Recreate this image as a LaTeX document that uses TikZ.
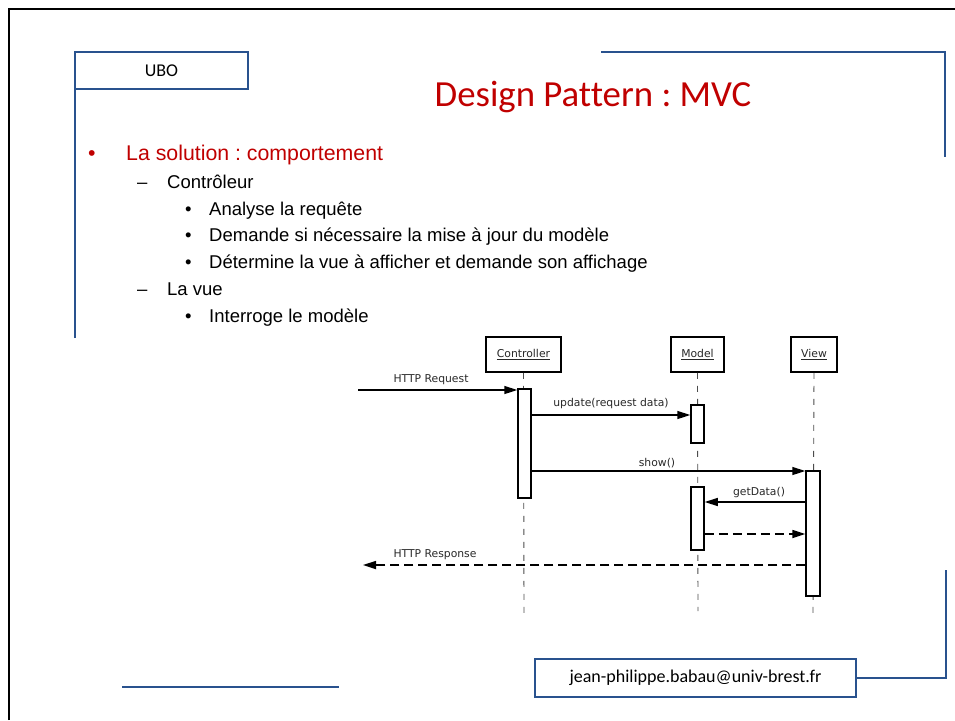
\documentclass[tikz,border=0pt]{standalone}
\usepackage{fontspec}
\setmainfont{Liberation Sans}
\newfontfamily\calibri[Ligatures=NoCommon]{Carlito}
\newfontfamily\seqfont{DejaVu Sans}
\usetikzlibrary{arrows.meta}
\frenchspacing
\definecolor{slidered}{RGB}{192,0,0}
\definecolor{slideblue}{RGB}{41,82,142}
\definecolor{seqtext}{RGB}{40,40,40}
\tikzset{
  frameline/.style={line width=1.8pt,black},
  blueline/.style={line width=2.6pt,slideblue},
  bluebox/.style={draw=slideblue,line width=2.6pt,fill=white,inner sep=0pt},
  lvlone/.style={anchor=base west,inner sep=0pt,text=slidered,font=\fontsize{21.3}{25}\selectfont},
  lvltwo/.style={anchor=base west,inner sep=0pt,font=\fontsize{18.5}{22}\selectfont},
  lifebox/.style={draw,line width=1.5pt,fill=white,inner sep=0pt,text=seqtext,font=\seqfont\fontsize{10.8}{13}\selectfont},
  actbox/.style={draw,line width=1.5pt,fill=white,inner sep=0pt,minimum width=13},
  lifeline/.style={line width=0.9pt,gray!60!black,dash pattern=on 6pt off 7pt},
  msg/.style={line width=1.5pt,-{Triangle[length=13pt,width=8pt]}},
  retmsg/.style={line width=1.7pt,dash pattern=on 9pt off 5pt,-{Triangle[length=13pt,width=8pt]}},
  msglabel/.style={inner sep=0pt,text=seqtext,font=\seqfont\fontsize{10.8}{13}\selectfont},
}
\begin{document}
\begin{tikzpicture}[x=1pt,y=-1pt]
\useasboundingbox (0,0) rectangle (955,720);
% page frame
\draw[frameline] (9,720) -- (9,9) -- (955,9);

% header decoration
\draw[blueline] (75,338) -- (75,52);
\node[bluebox,minimum width=173,minimum height=37,font=\calibri\fontsize{18}{20}\selectfont] (ubo) at (161.5,70.5) {UBO};
\draw[blueline] (601,52) -- (945,52) -- (945,157);

% title
\node[anchor=base,inner sep=0pt,text=slidered,font=\calibri\fontsize{36.8}{40}\selectfont] (title) at (593,106) {Design Pattern : MVC};

% bullet list
\node[lvlone] (b1) at (88,160) {•};
\node[lvlone] (t1) at (126,160) {La solution : comportement};
\node[lvltwo] (d1) at (137,188) {–};
\node[lvltwo] (t2) at (167,188) {Contrôleur};
\node[lvltwo] (b31) at (185,215) {•};
\node[lvltwo] (t31) at (209,215) {Analyse la requête};
\node[lvltwo] (b32) at (185,241) {•};
\node[lvltwo] (t32) at (209,241) {Demande si nécessaire la mise à jour du modèle};
\node[lvltwo] (b33) at (185,268) {•};
\node[lvltwo] (t33) at (209,268) {Détermine la vue à afficher et demande son affichage};
\node[lvltwo] (d2) at (137,295) {–};
\node[lvltwo] (t4) at (167,295) {La vue};
\node[lvltwo] (b41) at (185,322) {•};
\node[lvltwo] (t41) at (209,322) {Interroge le modèle};

% sequence diagram: participants
\node[lifebox,minimum width=75,minimum height=35] (ctrl) at (523.5,354.5) {\underline{Controller}};
\node[lifebox,minimum width=53,minimum height=35] (model) at (697.5,354.5) {\underline{Model}};
\node[lifebox,minimum width=46,minimum height=35] (view) at (814,354.5) {\underline{View}};
\coordinate (ctrlEnd) at (524,613);
\coordinate (modelEnd) at (698,611);
\coordinate (viewEnd) at (813,613);
\draw[lifeline] (ctrl.south) -- (ctrlEnd);
\draw[lifeline] (model.south) -- (modelEnd);
\draw[lifeline] (view.south) -- (viewEnd);

% activations
\node[actbox,minimum height=109] (ctrlAct) at (524.5,443.5) {};
\node[actbox,minimum height=38] (modAct1) at (697.5,424) {};
\node[actbox,minimum height=63] (modAct2) at (697.5,518.5) {};
\node[actbox,minimum width=14,minimum height=125] (viewAct) at (813,533.5) {};

% message levels
\coordinate (reqStart) at (358,390);
\coordinate (updY) at (0,415);
\coordinate (showY) at (0,471);
\coordinate (getY) at (0,502);
\coordinate (retY) at (0,534);
\coordinate (respEnd) at (363,565);

% messages
\draw[msg] (reqStart) -- (reqStart -| ctrlAct.west);
\node[msglabel] (lreq) at (431,380) {HTTP Request};
\draw[msg] (ctrlAct.east |- updY) -- (modAct1.west |- updY);
\node[msglabel] (lupd) at (611,404) {update(request data)};
\draw[msg] (ctrlAct.east |- showY) -- (viewAct.west |- showY);
\node[msglabel] (lshow) at (657,463) {show()};
\draw[msg] (viewAct.west |- getY) -- (modAct2.east |- getY);
\node[msglabel] (lget) at (759,493) {getData()};
\draw[retmsg] (modAct2.east |- retY) -- (viewAct.west |- retY);
\draw[retmsg] (respEnd -| viewAct.west) -- (respEnd);
\node[msglabel] (lresp) at (435,555) {HTTP Response};

% footer decoration
\draw[blueline] (122,687) -- (339,687);
\node[bluebox,minimum width=321,minimum height=38,font=\calibri\fontsize{18}{20}\selectfont] (email) at (695.5,678) {jean-philippe.babau@univ-brest.fr};
\coordinate (cornerBR) at (946,678);
\coordinate (footTop) at (946,570);
\draw[blueline] (email.east) -- (cornerBR) -- (footTop);
\end{tikzpicture}
\end{document}
